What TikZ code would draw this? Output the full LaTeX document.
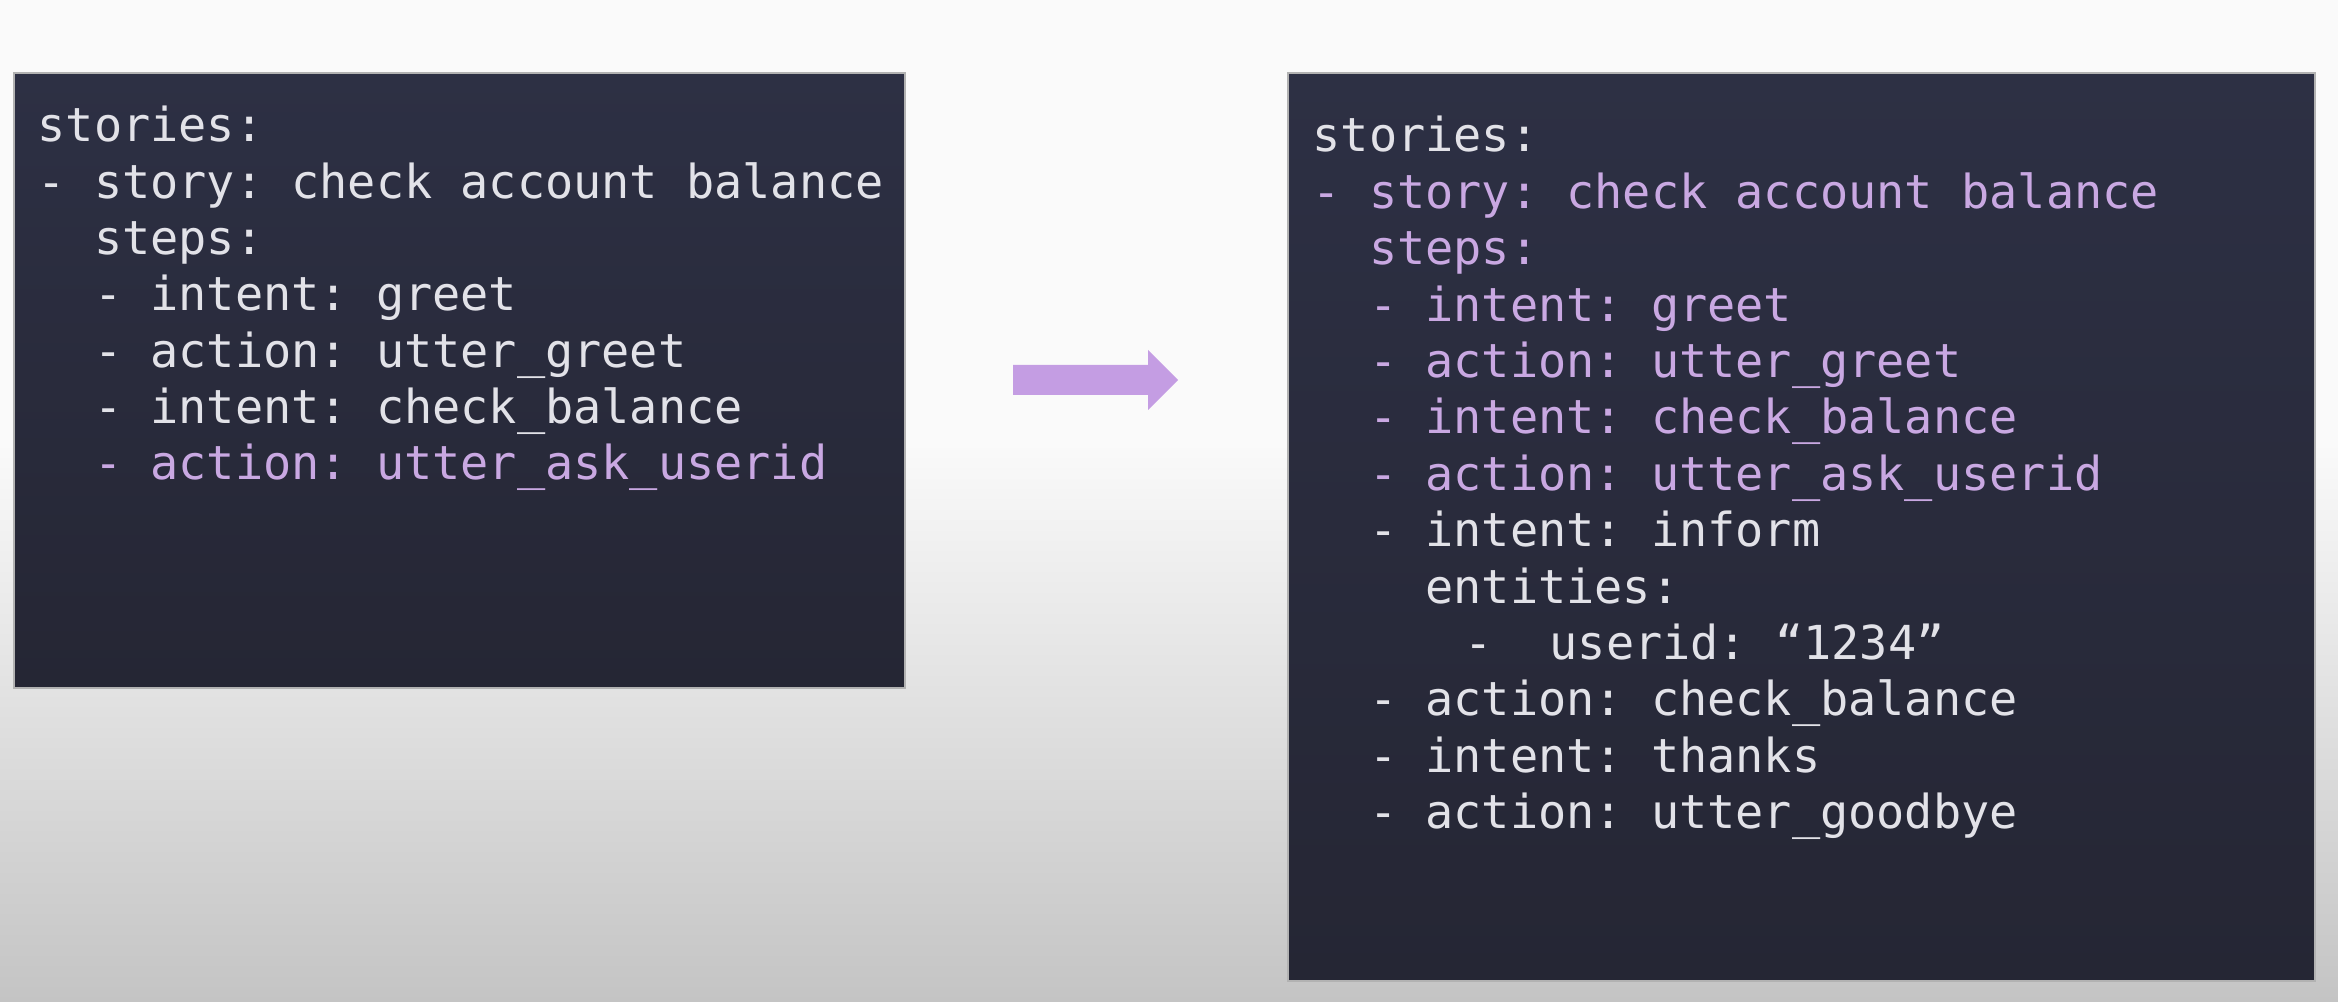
\documentclass[tikz,border=0pt]{standalone}
\usepackage{fontspec}
\setmonofont{DejaVu Sans Mono}
\usepackage{tikz}
\usetikzlibrary{calc}
\usepackage{tkz-euclide}
\usepackage{xcolor}
\definecolor{SlideTop}{HTML}{FAFAFA}
\definecolor{SlideBottom}{HTML}{C4C4C4}
\definecolor{CodeNavyTop}{HTML}{2D3044}
\definecolor{CodeNavyBottom}{HTML}{252634}
\definecolor{CodeWhite}{HTML}{E2E2E8}
\definecolor{CodePurple}{HTML}{C9A8E2}
\definecolor{ArrowPurple}{HTML}{C49DE3}

\begin{document}
\begin{tikzpicture}[
    codebox/.style={draw=black!30, line width=0.5pt, top color=CodeNavyTop, bottom color=CodeNavyBottom, anchor=north west, inner sep=0pt},
    codeline/.style={anchor=base west, inner sep=0pt, font=\ttfamily\frenchspacing\fontsize{13.33}{16}\selectfont}
]
    \useasboundingbox (0,0) rectangle (23.38,10.02);
    \fill[SlideTop] (0,0) rectangle (23.38,10.02);
    \shade[top color=SlideTop, bottom color=SlideBottom] (0,0) rectangle (23.38,5.6);

    \node[codebox, minimum width=8.91cm, minimum height=6.15cm] (before) at (0.13,9.30) {};
    \node[codebox, minimum width=10.27cm, minimum height=9.08cm] (after) at (12.87,9.30) {};

    \foreach \col/\txt/\clr [count=\i from 0] in {
        0/stories:/CodeWhite,
        0/- story: check account balance/CodeWhite,
        2/steps:/CodeWhite,
        2/- intent: greet/CodeWhite,
        2/- action: utter\_greet/CodeWhite,
        2/- intent: check\_balance/CodeWhite,
        2/- action: utter\_ask\_userid/CodePurple}
        \node[codeline, text=\clr] (before-\i) at ($(before.north west)+(0.24+\col*0.282,-0.70-\i*0.563)$) {\txt};

    \foreach \col/\txt/\clr [count=\i from 0] in {
        0/stories:/CodeWhite,
        0/- story: check account balance/CodePurple,
        2/steps:/CodePurple,
        2/- intent: greet/CodePurple,
        2/- action: utter\_greet/CodePurple,
        2/- intent: check\_balance/CodePurple,
        2/- action: utter\_ask\_userid/CodePurple,
        2/- intent: inform/CodeWhite,
        4/entities:/CodeWhite,
        5.4/-~~userid: “1234”/CodeWhite,
        2/- action: check\_balance/CodeWhite,
        2/- intent: thanks/CodeWhite,
        2/- action: utter\_goodbye/CodeWhite}
        \node[codeline, text=\clr] (after-\i) at ($(after.north west)+(0.25+\col*0.282,-0.80-\i*0.564)$) {\txt};

    \tkzDefPoint(10.13,6.37){TailTop}
    \tkzDefPoint(11.48,6.37){NeckTop}
    \tkzDefPoint(11.48,6.52){BarbTop}
    \tkzDefPoint(11.78,6.22){Tip}
    \tkzDefPoint(11.48,5.92){BarbBottom}
    \tkzDefPoint(11.48,6.07){NeckBottom}
    \tkzDefPoint(10.13,6.07){TailBottom}
    \fill[ArrowPurple] (TailTop) -- (NeckTop) -- (BarbTop) -- (Tip) -- (BarbBottom) -- (NeckBottom) -- (TailBottom) -- cycle;
\end{tikzpicture}
\end{document}
